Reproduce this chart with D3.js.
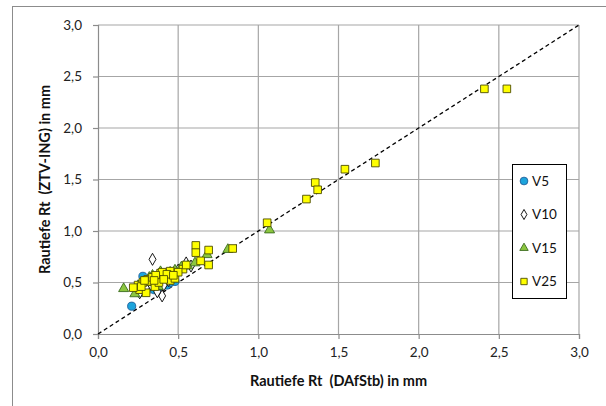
<!DOCTYPE html>
<html><head><meta charset="utf-8">
<script src="https://cdn.jsdelivr.net/npm/d3@7"></script>
<style>
html,body{margin:0;padding:0;background:#fff;}
svg{display:block;font-family:Lato,"Open Sans",sans-serif;}
text{white-space:pre;}
</style></head>
<body>
<svg id="chart" width="606" height="406"></svg>
<script>
// ---- data ----
const ticks = [0, 0.5, 1.0, 1.5, 2.0, 2.5, 3.0];
const tickLabels = ["0,0", "0,5", "1,0", "1,5", "2,0", "2,5", "3,0"];
const seriesNames = ["V5", "V10", "V15", "V25"];

const v5X = [0.21, 0.24, 0.26, 0.28, 0.30, 0.32, 0.33, 0.35, 0.37, 0.40, 0.43, 0.45, 0.48, 0.27, 0.31];
const v5Y = [0.27, 0.44, 0.40, 0.56, 0.41, 0.46, 0.50, 0.43, 0.44, 0.51, 0.475, 0.50, 0.51, 0.48, 0.53];

const v10X = [0.34, 0.40, 0.26, 0.37, 0.41, 0.44, 0.50, 0.55, 0.30, 0.28, 0.47, 0.58, 0.33];
const v10Y = [0.725, 0.37, 0.40, 0.41, 0.475, 0.52, 0.62, 0.69, 0.45, 0.50, 0.58, 0.66, 0.48];

const v15X = [0.16, 0.23, 0.27, 0.34, 0.39, 0.376, 0.52, 0.605, 0.68, 0.81, 1.07, 0.30, 0.45, 0.25, 0.43, 0.56, 0.32, 0.36, 0.48];
const v15Y = [0.44, 0.39, 0.43, 0.57, 0.605, 0.46, 0.65, 0.69, 0.77, 0.82, 1.01, 0.50, 0.60, 0.47, 0.55, 0.66, 0.55, 0.53, 0.62];

const v25X = [0.25, 0.26, 0.31, 0.32, 0.355, 0.366, 0.39, 0.42, 0.45, 0.45, 0.48, 0.53, 0.55, 0.61, 0.61, 0.64, 0.69, 0.69, 0.84, 1.055, 1.30, 1.355, 1.37, 1.54, 1.73, 2.41, 2.55, 0.28, 0.34, 0.40, 0.22, 0.30, 0.50, 0.27, 0.29, 0.36, 0.38, 0.43, 0.47, 0.35, 0.41];
const v25Y = [0.475, 0.43, 0.53, 0.51, 0.46, 0.54, 0.59, 0.56, 0.61, 0.52, 0.54, 0.63, 0.67, 0.86, 0.79, 0.71, 0.815, 0.67, 0.83, 1.08, 1.31, 1.47, 1.40, 1.60, 1.66, 2.38, 2.38, 0.50, 0.55, 0.60, 0.45, 0.40, 0.60, 0.46, 0.52, 0.57, 0.50, 0.58, 0.57, 0.52, 0.53];

// ---- layout ----
const svg = d3.select("#chart");
const L = 98, R = 579, T = 25, B = 334;
const x = d3.scaleLinear().domain([0, 3]).range([L, R]);
const y = d3.scaleLinear().domain([0, 3]).range([B, T]);

// outer frame
svg.append("rect").attr("x", 12.5).attr("y", 6.5).attr("width", 606).attr("height", 410)
  .attr("fill", "#fff").attr("stroke", "#8c8c8c").attr("stroke-width", 1);

// gridlines
const grid = svg.append("g").attr("stroke", "#a6a6a6").attr("stroke-width", 1.2);
ticks.slice(1).forEach(t => {
  grid.append("line").attr("x1", x(t)).attr("x2", x(t)).attr("y1", T).attr("y2", B);
  grid.append("line").attr("x1", L).attr("x2", R).attr("y1", y(t)).attr("y2", y(t));
});

// axes
const fmt = d => tickLabels[ticks.indexOf(d)];
const xAxis = svg.append("g").attr("transform", `translate(0,${B})`)
  .call(d3.axisBottom(x).tickValues(ticks).tickFormat(fmt).tickSize(5).tickPadding(8));
const yAxis = svg.append("g").attr("transform", `translate(${L},0)`)
  .call(d3.axisLeft(y).tickValues(ticks).tickFormat(fmt).tickSize(5).tickPadding(11));
[xAxis, yAxis].forEach(g => {
  g.select(".domain").attr("stroke", "#8c8c8c").attr("stroke-width", 1.2);
  g.selectAll(".tick line").attr("stroke", "#8c8c8c").attr("stroke-width", 1.2);
  g.selectAll(".tick text").attr("fill", "#222").style("font-size", "13.5px").style("font-family", "Lato, sans-serif");
});

// diagonal dashed line
svg.append("line").attr("x1", x(0)).attr("y1", y(0)).attr("x2", x(3)).attr("y2", y(3))
  .attr("stroke", "#000").attr("stroke-width", 1.3).attr("stroke-dasharray", "4,3");

// marker definitions
const styles = {
  V5:  {shape: d3.symbolCircle,   size: 52, fill: "#1CA4DC", stroke: "#1F5F9A"},
  V10: {shape: d3.symbolDiamond,  size: 42, fill: "#ffffff", stroke: "#000000"},
  V15: {shape: d3.symbolTriangle, size: 44, fill: "#8CC63F", stroke: "#3A6B1E"},
  V25: {shape: d3.symbolSquare,   size: 58, fill: "#FFFF00", stroke: "#4d4d00"}
};
const seriesData = {
  V5: d3.zip(v5X, v5Y), V10: d3.zip(v10X, v10Y), V15: d3.zip(v15X, v15Y), V25: d3.zip(v25X, v25Y)
};

seriesNames.forEach(name => {
  const st = styles[name];
  const sym = d3.symbol().type(st.shape).size(st.size);
  svg.append("g").selectAll("path").data(seriesData[name]).join("path")
    .attr("d", sym)
    .attr("transform", d => `translate(${x(d[0])},${y(d[1])})`)
    .attr("fill", st.fill).attr("stroke", st.stroke).attr("stroke-width", 0.9);
});

// axis titles
svg.append("text").attr("x", (L + R) / 2).attr("y", 386).attr("text-anchor", "middle")
  .style("font-size", "14.5px").style("font-weight", "bold").attr("fill", "#111")
  .text("Rautiefe Rt  (DAfStb) in mm");
svg.append("text").attr("transform", `translate(50,${(T + B) / 2}) rotate(-90)`).attr("text-anchor", "middle")
  .style("font-size", "14.5px").style("font-weight", "bold").attr("fill", "#111")
  .text("Rautiefe Rt  (ZTV-ING) in mm");

// legend
const lg = svg.append("g");
lg.append("rect").attr("x", 512.5).attr("y", 164.5).attr("width", 54).attr("height", 134)
  .attr("fill", "#fff").attr("stroke", "#000").attr("stroke-width", 1);
seriesNames.forEach((name, i) => {
  const st = styles[name];
  const cy = 181 + i * 33.5;
  lg.append("path").attr("d", d3.symbol().type(st.shape).size(st.size * (name === "V5" ? 0.9 : 0.7))())
    .attr("transform", `translate(524,${cy})`)
    .attr("fill", st.fill).attr("stroke", st.stroke).attr("stroke-width", 0.9);
  lg.append("text").attr("x", 532).attr("y", cy).attr("dy", "0.35em")
    .style("font-size", "13.5px").attr("fill", "#111").text(name);
});
</script>
</body></html>
